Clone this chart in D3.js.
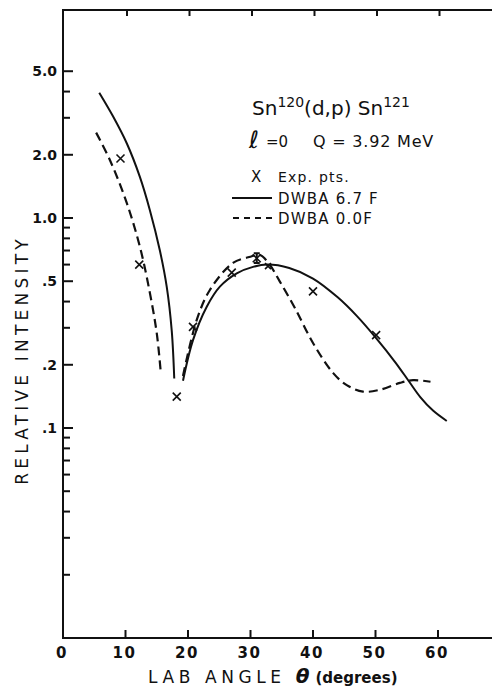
<!DOCTYPE html>
<html>
<head>
<meta charset="utf-8">
<script src="https://cdn.jsdelivr.net/npm/d3@7"></script>
<style>
  html, body { margin: 0; padding: 0; background: #fff; }
  svg { display: block; }
  text { font-family: "DejaVu Sans", sans-serif; fill: #111; }
</style>
</head>
<body>
<svg id="chart" width="492" height="688"></svg>
<script>
// angle (deg) / relative intensity
const dwba67Left = [
  [5.8, 3.95], [8.0, 3.05], [10.2, 2.27], [12.3, 1.57], [13.9, 1.09],
  [15.5, 0.70], [16.6, 0.47], [17.4, 0.29], [17.8, 0.172]
];
const dwba67Right = [
  [19.2, 0.168], [20.8, 0.262], [23.0, 0.378], [25.1, 0.471], [27.8, 0.545],
  [30.4, 0.585], [32.7, 0.600], [36.2, 0.578], [40.0, 0.515], [44.0, 0.418],
  [47.0, 0.342], [50.1, 0.268], [53.2, 0.205], [55.4, 0.166], [57.2, 0.140],
  [59.2, 0.121], [61.4, 0.108]
];
const dwba00Left = [
  [5.3, 2.55], [7.5, 1.89], [10.2, 1.18], [12.3, 0.73], [13.9, 0.44],
  [15.0, 0.283], [15.6, 0.19]
];
const dwba00Right = [
  [19.2, 0.177], [21.4, 0.327], [23.5, 0.454], [27.2, 0.611], [30.0, 0.654],
  [31.5, 0.667], [33.1, 0.597], [34.7, 0.498], [37.1, 0.373], [40.0, 0.254],
  [43.2, 0.183], [45.4, 0.160], [48.0, 0.149], [50.7, 0.152], [53.9, 0.164],
  [56.0, 0.169], [58.8, 0.166]
];
const expAngles = [9.2, 12.2, 18.2, 20.8, 27.0, 31.0, 32.8, 40.0, 50.1];
const expValues = [1.92, 0.60, 0.141, 0.303, 0.549, 0.643, 0.59, 0.447, 0.277];
const errBar = { angle: 31.0, lo: 0.61, hi: 0.68 };

const xTicks = [0, 10, 20, 30, 40, 50, 60];
const yLabelled = [5, 2, 1, 0.5, 0.2, 0.1];
const yLabelText = ["5.0", "2.0", "1.0", ".5", ".2", ".1"];
const yMinor = [4, 3, 0.9, 0.8, 0.7, 0.6, 0.4, 0.3,
  0.09, 0.08, 0.07, 0.06, 0.05, 0.04, 0.03, 0.02];

const frame = { left: 63, top: 10, bottom: 638, right: 494 };

const svg = d3.select("#chart");
const x = d3.scaleLinear().domain([0, 60]).range([63, 438]);
const y = d3.scaleLog().domain([0.01, 10]).range([638, 8]);

// frame (right side runs off the page like the scan)
const axes = svg.append("g").attr("stroke", "#111").attr("stroke-width", 2).attr("fill", "none");
axes.append("path")
  .attr("d", `M${frame.right},${frame.top} H${frame.left} V${frame.bottom} H${frame.right}`);

// x ticks, bottom (up) and top (down)
axes.selectAll(".xb").data(xTicks.slice(1)).join("line")
  .attr("class", "xb")
  .attr("x1", (d) => x(d)).attr("x2", (d) => x(d))
  .attr("y1", frame.bottom).attr("y2", frame.bottom - 8);
axes.selectAll(".xt").data(xTicks.slice(1)).join("line")
  .attr("class", "xt")
  .attr("x1", (d) => x(d) + 1.5).attr("x2", (d) => x(d) + 1.5)
  .attr("y1", frame.top).attr("y2", frame.top + 6);

// y ticks
axes.selectAll(".ym").data(yLabelled).join("line")
  .attr("class", "ym")
  .attr("x1", frame.left).attr("x2", frame.left + 10)
  .attr("y1", (d) => y(d)).attr("y2", (d) => y(d));
axes.selectAll(".yn").data(yMinor).join("line")
  .attr("class", "yn")
  .attr("x1", frame.left).attr("x2", frame.left + 7)
  .attr("y1", (d) => y(d)).attr("y2", (d) => y(d));

// tick labels
svg.append("g").selectAll("text").data(yLabelled).join("text")
  .attr("x", 57).attr("y", (d) => y(d)).attr("dy", "0.36em")
  .attr("text-anchor", "end").attr("font-size", 14).attr("font-weight", "bold")
  .text((d, i) => yLabelText[i]);

svg.append("g").selectAll("text").data(xTicks).join("text")
  .attr("x", (d) => x(d) - 1).attr("y", 658)
  .attr("text-anchor", "middle").attr("font-size", 15).attr("font-weight", "bold")
  .attr("letter-spacing", 1.5)
  .text((d) => d);

// axis titles
svg.append("text")
  .attr("transform", "translate(28,360) rotate(-90)")
  .attr("text-anchor", "middle").attr("font-size", 17).attr("letter-spacing", 4.2)
  .text("RELATIVE INTENSITY");

const xt = svg.append("text").attr("x", 148).attr("y", 683).attr("font-size", 17);
xt.append("tspan").attr("letter-spacing", 4.6).text("LAB ANGLE ");
xt.append("tspan").attr("font-style", "italic").attr("font-size", 20).attr("font-weight", "bold").text("θ");
xt.append("tspan").attr("font-size", 15).attr("font-weight", "bold").attr("dx", 6).text("(degrees)");

// curves
const line = d3.line()
  .x((d) => x(d[0]))
  .y((d) => y(d[1]))
  .curve(d3.curveCatmullRom.alpha(0.5));

const curves = svg.append("g").attr("fill", "none").attr("stroke", "#111");
[dwba67Left, dwba67Right].forEach((pts) => {
  curves.append("path").attr("d", line(pts)).attr("stroke-width", 2);
});
[dwba00Left, dwba00Right].forEach((pts) => {
  curves.append("path").attr("d", line(pts)).attr("stroke-width", 2.2)
    .attr("stroke-dasharray", "9,5");
});

// experimental points
const pts = svg.append("g").attr("stroke", "#111").attr("stroke-width", 1.6);
const s = 4;
expAngles.forEach((a, i) => {
  const px = x(a), py = y(expValues[i]);
  const r = i === 6 ? 3 : s;
  pts.append("path").attr("d", `M${px - r},${py - r}L${px + r},${py + r}M${px - r},${py + r}L${px + r},${py - r}`);
});
const ex = x(errBar.angle);
pts.append("path")
  .attr("d", `M${ex},${y(errBar.hi)}V${y(errBar.lo)}M${ex - 3},${y(errBar.hi)}H${ex + 3}M${ex - 3},${y(errBar.lo)}H${ex + 3}`)
  .attr("stroke-width", 2);

// annotation
const title = svg.append("text").attr("x", 252).attr("y", 115).attr("font-size", 20);
title.append("tspan").text("Sn");
title.append("tspan").attr("font-size", 14).attr("dy", -8).text("120");
title.append("tspan").attr("dy", 8).text("(d,p) Sn");
title.append("tspan").attr("font-size", 14).attr("dy", -8).text("121");

svg.append("text").attr("x", 249).attr("y", 148).attr("font-size", 24)
  .attr("font-style", "italic").attr("font-family", "DejaVu Serif").text("ℓ");
svg.append("text").attr("x", 266).attr("y", 147).attr("font-size", 15).text("=0");
svg.append("text").attr("x", 313).attr("y", 147).attr("font-size", 16)
  .attr("letter-spacing", 0.8).text("Q = 3.92 MeV");

svg.append("text").attr("x", 251).attr("y", 182).attr("font-size", 15).text("X");
svg.append("text").attr("x", 278).attr("y", 182).attr("font-size", 14).attr("letter-spacing", 1.2).text("Exp. pts.");
svg.append("line").attr("x1", 232).attr("x2", 272).attr("y1", 198).attr("y2", 198)
  .attr("stroke", "#111").attr("stroke-width", 2);
svg.append("text").attr("x", 278).attr("y", 204).attr("font-size", 15).attr("letter-spacing", 1.2).text("DWBA 6.7 F");
svg.append("line").attr("x1", 233).attr("x2", 273).attr("y1", 218).attr("y2", 218)
  .attr("stroke", "#111").attr("stroke-width", 2).attr("stroke-dasharray", "6,5");
svg.append("text").attr("x", 278).attr("y", 224).attr("font-size", 15).attr("letter-spacing", 1.2).text("DWBA 0.0F");
</script>
</body>
</html>
